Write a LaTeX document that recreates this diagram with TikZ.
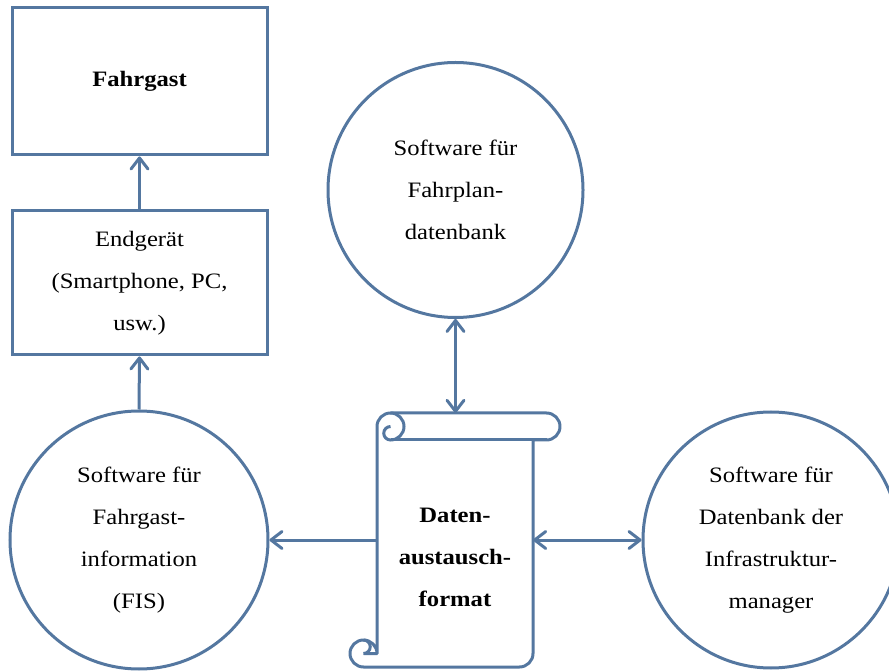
\documentclass[tikz,border=0pt]{standalone}
\usepackage{fontspec}
\setmainfont[FakeStretch=1.12]{Liberation Serif}
\usetikzlibrary{arrows.meta}
\definecolor{lineblue}{RGB}{84,119,160}
\tikzset{
  shapeline/.style={draw=lineblue, line width=3pt},
  boxnode/.style={shapeline, rectangle, minimum width=255pt, minimum height=145pt, align=center, inner sep=0pt},
  circnode/.style={shapeline, circle, align=center, inner sep=0pt},
  txt/.style={font=\fontsize{22}{42}\selectfont, align=center},
  tip/.style={},
  conn/.style={draw=lineblue, line width=3pt, -{Straight Barb[length=11pt,width=17pt,line width=3pt,round]}},
  conn2/.style={draw=lineblue, line width=3pt, {Straight Barb[length=11pt,width=17pt,line width=3pt,round]}-{Straight Barb[length=11pt,width=17pt,line width=3pt,round]}}
}
\begin{document}
\begin{tikzpicture}[x=1pt,y=1pt]
\useasboundingbox (0,0) rectangle (889,670);
\clip (0,0) rectangle (889,670);
% boxes
\node[boxnode, minimum height=147pt, txt] (fahrgast) at (139.5,588.5) {\textbf{Fahrgast}};
\node[boxnode, minimum height=144pt, txt] (endgeraet) at (139.5,387) {Endger\"at\\(Smartphone, PC,\\usw.)};
% circles
\node[circnode, minimum size=258pt, txt] (fis) at (139,130) {Software f\"ur\\Fahrgast-\\information\\(FIS)};
\node[circnode, minimum size=255pt, txt] (fahrplan) at (455.5,480) {Software f\"ur\\Fahrplan-\\datenbank};
\node[circnode, minimum size=256pt, txt] (infra) at (771,130) {Software f\"ur\\Datenbank der\\Infrastruktur-\\manager};
% scroll
\node[minimum width=156pt, minimum height=254pt, inner sep=0pt] (scroll) at (455,130) {};
\filldraw[shapeline, fill=white, line join=round]
  (377,243.5) arc[start angle=180, end angle=90, radius=13.5]
  -- (546.5,257) arc[start angle=90, end angle=-90, radius=13.5]
  -- (533,230) -- (533,16.5) arc[start angle=0, end angle=-90, radius=13.5]
  -- (363.5,3) arc[start angle=270, end angle=90, radius=13.5]
  arc[start angle=90, end angle=0, radius=13.5] -- cycle;
\draw[shapeline] (546.5,230) -- (390.5,230);
\draw[shapeline] (390.5,257) arc[start angle=90, end angle=-90, radius=13.5]
  arc[start angle=270, end angle=90, radius=6.75];
\draw[shapeline] (363.5,30) arc[start angle=90, end angle=-90, radius=6.75] -- (377,16.5);
\node[txt, font=\fontsize{22}{42}\selectfont\bfseries] (scrolltext) at (455,113) {Daten-\\austausch-\\format};
% connectors
\draw[conn] (endgeraet.north) -- (fahrgast.south);
\draw[conn] (fis.north) -- (endgeraet.south);
\draw[conn2] (fahrplan.south) -- (fahrplan.south |- scroll.north);
\draw[conn] (scroll.west) -- (fis.east);
\draw[conn2] (scroll.east) -- (infra.west);
\end{tikzpicture}
\end{document}
